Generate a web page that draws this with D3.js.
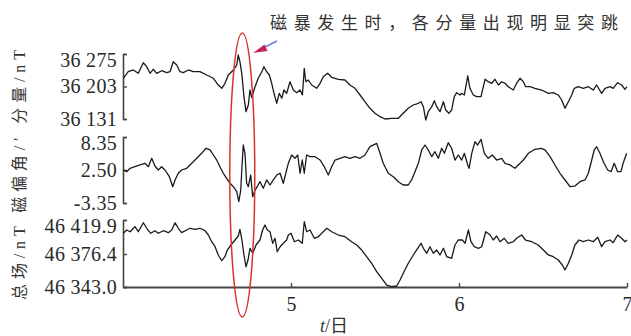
<!DOCTYPE html>
<html><head><meta charset="utf-8">
<script src="https://cdn.jsdelivr.net/npm/d3@7"></script>
<style>
html,body{margin:0;padding:0;background:#fff;}
svg{display:block;}
.tick text{font-family:"Liberation Serif","Times New Roman",serif;}
</style></head>
<body>
<svg id="chart" width="631" height="336"></svg>
<script>
// ---- data ----
const hTime = [4.002,4.031,4.061,4.091,4.121,4.141,4.161,4.180,4.201,4.230,4.260,4.280,4.299,4.320,4.339,4.359,4.389,4.418,4.458,4.498,4.538,4.567,4.588,4.607,4.627,4.657,4.677,4.686,4.696,4.707,4.720,4.732,4.746,4.756,4.766,4.786,4.805,4.826,4.839,4.855,4.871,4.885,4.899,4.915,4.930,4.945,4.958,4.974,4.994,5.014,5.034,5.054,5.068,5.079,5.088,5.103,5.123,5.153,5.173,5.192,5.218,5.242,5.282,5.321,5.351,5.381,5.411,5.440,5.470,5.500,5.530,5.560,5.599,5.639,5.668,5.698,5.728,5.758,5.774,5.788,5.802,5.817,5.838,5.853,5.867,5.887,5.907,5.921,5.940,5.956,5.972,5.986,6.006,6.016,6.032,6.052,6.065,6.085,6.105,6.131,6.155,6.174,6.195,6.214,6.234,6.254,6.274,6.293,6.323,6.343,6.363,6.383,6.397,6.423,6.452,6.492,6.532,6.561,6.591,6.611,6.631,6.651,6.671,6.686,6.710,6.740,6.770,6.799,6.819,6.849,6.869,6.899,6.918,6.944,6.968,6.988,7.000];
const hValue = [36221.2,36235.8,36239.6,36232.2,36255.7,36246.9,36232.2,36241.1,36232.2,36238.0,36233.6,36235.8,36257.9,36250.6,36235.8,36233.6,36239.6,36235.8,36235.8,36228.5,36221.2,36206.3,36199.0,36210.1,36228.5,36239.6,36250.6,36272.8,36257.9,36232.2,36180.4,36147.2,36162.0,36195.2,36179.1,36202.6,36221.2,36235.8,36246.9,36235.8,36228.5,36210.1,36187.9,36165.8,36187.9,36176.9,36195.2,36187.9,36213.6,36195.2,36189.3,36195.2,36184.2,36243.3,36213.6,36217.4,36206.3,36199.0,36210.1,36224.7,36232.2,36223.4,36219.0,36217.4,36206.3,36199.0,36184.2,36169.3,36154.7,36143.6,36136.1,36131.0,36132.5,36132.5,36143.6,36154.7,36162.0,36165.8,36169.3,36158.2,36128.8,36147.2,36158.2,36171.5,36158.2,36147.2,36169.3,36150.9,36143.6,36150.9,36180.4,36189.3,36184.2,36187.9,36184.2,36226.3,36199.0,36184.2,36180.4,36180.4,36219.0,36213.6,36210.1,36219.0,36206.3,36213.6,36210.1,36202.6,36195.2,36210.1,36221.2,36213.6,36202.6,36202.6,36199.0,36195.2,36187.9,36189.3,36184.2,36173.1,36154.7,36169.3,36184.2,36199.0,36202.6,36199.0,36202.6,36195.2,36206.3,36187.9,36199.0,36202.6,36199.0,36211.4,36206.3,36196.8,36202.6];

const dTime = [4.002,4.022,4.042,4.071,4.101,4.131,4.151,4.171,4.190,4.210,4.230,4.250,4.276,4.296,4.310,4.329,4.349,4.379,4.409,4.439,4.468,4.494,4.518,4.538,4.558,4.577,4.597,4.617,4.637,4.657,4.677,4.689,4.701,4.708,4.716,4.726,4.736,4.746,4.760,4.772,4.786,4.799,4.815,4.835,4.855,4.875,4.895,4.915,4.935,4.954,4.984,5.004,5.024,5.040,5.054,5.067,5.079,5.093,5.113,5.143,5.173,5.198,5.222,5.242,5.262,5.292,5.321,5.351,5.381,5.411,5.440,5.470,5.510,5.530,5.549,5.579,5.609,5.639,5.668,5.698,5.718,5.738,5.758,5.778,5.798,5.817,5.838,5.857,5.877,5.897,5.913,5.936,5.956,5.976,5.996,6.016,6.032,6.052,6.060,6.076,6.095,6.111,6.131,6.151,6.174,6.198,6.224,6.254,6.274,6.304,6.333,6.353,6.383,6.413,6.452,6.488,6.512,6.542,6.571,6.601,6.631,6.661,6.690,6.720,6.750,6.770,6.790,6.805,6.819,6.839,6.859,6.885,6.905,6.924,6.944,6.964,6.977,6.998];
const dValue = [2.50,2.20,2.80,3.09,3.39,3.69,3.09,4.57,3.21,2.50,3.09,2.50,1.31,-0.46,0.73,1.92,2.50,2.80,3.69,4.57,5.46,6.35,6.05,5.16,4.27,3.09,1.92,1.03,0.14,-0.46,-1.35,-3.12,-1.05,3.09,6.93,5.46,0.14,-0.46,1.61,-2.23,-1.05,-0.46,0.43,-0.74,0.73,-0.16,0.73,1.61,1.92,0.14,3.69,5.16,4.57,5.16,1.92,4.27,1.92,5.16,4.86,4.86,4.27,3.09,1.61,3.09,4.27,4.57,4.86,4.57,4.86,4.57,5.16,6.63,7.23,5.46,3.69,1.92,1.31,0.43,-0.16,-0.16,0.73,2.20,3.69,6.05,6.93,6.05,4.86,5.74,4.57,6.35,5.46,7.34,6.35,4.27,5.16,4.27,5.46,3.39,2.80,5.46,7.52,6.93,7.94,5.46,4.57,5.16,4.27,4.57,3.69,3.39,2.80,3.39,4.27,5.46,6.17,6.35,6.05,4.86,3.39,1.92,0.73,-0.46,-0.34,0.43,0.73,1.92,4.27,6.05,6.63,5.46,3.97,2.50,2.20,3.69,2.20,2.20,3.69,5.46];

const fTime = [4.002,4.022,4.042,4.071,4.091,4.121,4.141,4.165,4.190,4.210,4.240,4.270,4.290,4.310,4.329,4.349,4.379,4.399,4.429,4.458,4.488,4.508,4.528,4.548,4.567,4.588,4.607,4.621,4.647,4.667,4.686,4.696,4.708,4.720,4.732,4.744,4.756,4.772,4.792,4.815,4.831,4.845,4.859,4.875,4.891,4.905,4.918,4.935,4.954,4.974,4.984,5.000,5.020,5.044,5.067,5.079,5.093,5.113,5.139,5.163,5.186,5.213,5.242,5.282,5.321,5.361,5.391,5.421,5.450,5.480,5.510,5.540,5.570,5.599,5.629,5.649,5.668,5.698,5.728,5.754,5.774,5.788,5.808,5.827,5.847,5.867,5.887,5.907,5.927,5.956,5.976,5.996,6.020,6.036,6.056,6.071,6.091,6.115,6.135,6.159,6.185,6.204,6.224,6.244,6.270,6.293,6.323,6.343,6.373,6.396,6.433,6.472,6.502,6.532,6.561,6.591,6.615,6.631,6.651,6.671,6.690,6.714,6.740,6.770,6.799,6.826,6.849,6.869,6.899,6.918,6.944,6.968,6.988,7.000];
const fValue = [46402.9,46407.1,46404.9,46411.3,46404.9,46416.4,46409.3,46402.9,46406.2,46402.9,46406.2,46403.7,46407.1,46416.4,46409.3,46403.7,46407.1,46409.3,46408.0,46409.3,46406.2,46400.7,46392.1,46385.7,46375.4,46369.6,46373.7,46381.5,46389.2,46394.3,46399.4,46408.0,46394.3,46375.4,46363.5,46370.3,46383.7,46377.3,46387.9,46394.3,46407.1,46413.5,46407.1,46404.9,46390.1,46396.5,46379.3,46385.7,46390.1,46394.3,46400.7,46402.9,46392.1,46394.3,46390.1,46417.7,46404.9,46407.1,46396.5,46398.5,46403.7,46409.3,46404.9,46400.7,46398.5,46392.1,46387.9,46381.5,46373.7,46367.0,46358.5,46351.8,46345.0,46343.3,46344.0,46350.1,46356.9,46367.0,46375.4,46383.7,46390.1,46383.7,46377.3,46385.7,46377.3,46381.5,46375.4,46383.7,46373.7,46372.0,46387.9,46394.3,46394.3,46390.1,46407.1,46392.1,46385.7,46383.7,46385.7,46404.9,46400.7,46394.3,46399.4,46392.1,46396.5,46390.1,46392.1,46396.5,46400.7,46394.3,46392.1,46387.9,46381.5,46375.4,46373.7,46370.3,46365.3,46360.2,46367.0,46375.4,46387.9,46394.3,46392.1,46394.3,46392.1,46397.8,46385.7,46392.1,46394.3,46390.9,46400.7,46396.5,46392.1,46394.3];

const hTicks = [36131, 36203, 36275];
const dTicks = [-3.35, 2.50, 8.35];
const fTicks = [46343.0, 46376.4, 46419.9];
const xTicks = [5, 6, 7];
const xDomain = [4, 7];
const yLabelText = "总场/nT 磁偏角/′ 分量/nT";
const xLabelItalic = "t";
const xLabelRest = "/日";
const noteText = "磁暴发生时，各分量出现明显突跳";

// ---- drawing ----
const svg = d3.select("#chart");
const cjk = '"Liberation Serif","Noto Sans CJK SC",serif';
const loc = d3.formatLocale({decimal: ".", thousands: " ", grouping: [3], currency: ["", ""], minus: "-"});

const x = d3.scaleLinear().domain(xDomain).range([123, 627]);
const yH = d3.scaleLinear().domain([36131, 36275]).range([119, 54]);
const yD = d3.scaleLinear().domain([-3.35, 8.35]).range([203, 137]);
const yF = d3.scaleLinear().domain(fTicks).range([287, 254, 220]);

function drawAxis(scale, ticks, fmt) {
  const g = svg.append("g").attr("transform", "translate(123,0)")
    .call(d3.axisLeft(scale).tickValues(ticks).tickFormat(fmt)
      .tickSizeInner(-4).tickSizeOuter(-4).tickPadding(6));
  g.select(".domain").attr("stroke", "#444").attr("stroke-width", 1.6);
  g.selectAll(".tick line").attr("stroke", "#444").attr("stroke-width", 1.4);
  g.selectAll(".tick text").attr("font-size", 20).attr("letter-spacing", "0.3px").attr("fill", "#2a2a2a");
  return g;
}
const gH = drawAxis(yH, hTicks, loc.format(",d"));
const gD = drawAxis(yD, dTicks, loc.format(".2f"));
const gF = drawAxis(yF, fTicks, loc.format(",.1f"));
// shift topmost labels down inside the bracket
[[gH, 36275], [gD, 8.35], [gF, 46419.9]].forEach(([g, v]) => {
  g.selectAll(".tick").filter(d => d === v).select("text").attr("dy", "0.62em");
});

// x axis
const gx = svg.append("g").attr("transform", "translate(0,287)")
  .call(d3.axisBottom(x).tickValues(xTicks).tickFormat(d3.format("d"))
    .tickSizeInner(-4).tickSizeOuter(0).tickPadding(10));
gx.select(".domain").attr("stroke", "#444").attr("stroke-width", 2.2);
gx.selectAll(".tick line").attr("stroke", "#444").attr("stroke-width", 1.4);
gx.selectAll(".tick text").attr("font-size", 20).attr("fill", "#2a2a2a");

// series lines
function drawLine(times, vals, yScale) {
  const data = times.map((t, i) => [t, vals[i]]);
  svg.append("path").datum(data)
    .attr("fill", "none").attr("stroke", "#1a1a1a").attr("stroke-width", 1.3)
    .attr("stroke-linejoin", "round")
    .attr("d", d3.line().x(d => x(d[0])).y(d => yScale(d[1])));
}
drawLine(hTime, hValue, yH);
drawLine(dTime, dValue, yD);
drawLine(fTime, fValue, yF);

// red ellipse highlighting the storm
svg.append("ellipse")
  .attr("cx", x(4.71)).attr("cy", 175).attr("rx", 12.5).attr("ry", 142)
  .attr("fill", "none").attr("stroke", "#d8352a").attr("stroke-width", 1.5);

// arrow
svg.append("line").attr("x1", 277).attr("y1", 41).attr("x2", 262).attr("y2", 48.5)
  .attr("stroke", "#6a7be0").attr("stroke-width", 1.4);
svg.append("path").attr("d", "M253,53 L264.5,44.5 L267.5,51 Z").attr("fill", "#c8205a");

// annotation
svg.append("text").attr("x", 270).attr("y", 29)
  .attr("font-family", cjk).attr("font-size", 17).attr("fill", "#333")
  .attr("textLength", 348).attr("lengthAdjust", "spacing")
  .text(noteText);

// y label
svg.append("text").attr("transform", "translate(25,175) rotate(-90)")
  .attr("text-anchor", "middle")
  .attr("font-family", cjk).attr("font-size", 16).attr("fill", "#333")
  .attr("textLength", 250).attr("lengthAdjust", "spacing")
  .text(yLabelText);

// x label
const xl = svg.append("text").attr("x", 320).attr("y", 332)
  .attr("font-family", cjk).attr("font-size", 18).attr("fill", "#333");
xl.append("tspan").attr("font-style", "italic").text(xLabelItalic);
xl.append("tspan").text(xLabelRest);
</script>
</body></html>
